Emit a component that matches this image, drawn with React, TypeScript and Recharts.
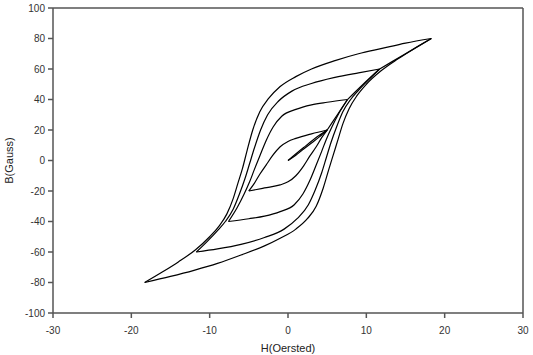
import React from 'react';
import { LineChart, Line, XAxis, YAxis, ReferenceLine } from 'recharts';

// Tick values
const xTicks = [-30, -20, -10, 0, 10, 20, 30];
const yTicks = [-100, -80, -60, -40, -20, 0, 20, 40, 60, 80, 100];

// Initial magnetization curve [H, B]
const initialCurve = [[0, 0], [1, 3.5], [2, 7.5], [3, 11.5], [4, 15.5], [5, 20]];
const initialCurve2 = [[0, 0], [2, 8.5], [4, 16.5], [5, 20]];

// Loop 1 (B max 20)
const loop20Down = [[-5, -20], [-4.3, -15], [-3.6, -9], [-2.8, -3], [-2, 3], [-1, 9], [0, 12.5], [1, 14.5], [3, 17.5], [5, 20]];
const loop20Up = [[-5, -20], [-3, -18], [-1, -16], [0, -14], [1, -10], [2, -3.5], [2.8, 3], [3.6, 9], [4.3, 15], [5, 20]];

// Loop 2 (B max 40)
const loop40Down = [[-7.6, -40], [-6.5, -31], [-5.6, -22], [-4.9, -14], [-4.3, -6], [-3.6, 3], [-2.8, 13], [-1.9, 22], [-0.8, 29], [1, 33.5], [3, 36.5], [5, 38.2], [7.6, 40]];
const loop40Up = [[-7.6, -40], [-5, -38.2], [-3, -36.5], [-1, -33.5], [0.8, -29], [1.9, -22], [2.8, -13], [3.6, -3], [4.3, 6], [4.9, 14], [5.6, 22], [6.5, 31], [7.6, 40]];

// Loop 3 (B max 60)
const loop60Down = [[-11.7, -60], [-10.3, -53], [-9, -46], [-8, -40], [-7, -32], [-6.2, -22], [-5.5, -12], [-4.9, -2], [-4.3, 8], [-3.5, 20], [-2.6, 30], [-1.2, 39], [0.5, 45.5], [3, 50.5], [6, 54.5], [9, 57.5], [11.7, 60]];
const loop60Up = [[-11.7, -60], [-9, -58], [-6, -55], [-3, -50.5], [-0.5, -45], [1.2, -38], [2.6, -29], [3.5, -19], [4.3, -8], [4.9, 2], [5.5, 12], [6.2, 22], [7, 32], [8, 40], [9, 46], [10.3, 53], [11.7, 60]];

// Loop 4 (B max 80)
const loop80Down = [[-18.3, -80], [-16, -73], [-14, -66.5], [-11.8, -58.5], [-10, -50], [-8.8, -43], [-7.8, -35], [-7, -25], [-6.4, -15], [-5.8, -5], [-5.2, 7], [-4.5, 20], [-3.6, 32], [-2.5, 40.5], [-1, 48.5], [1, 55], [3, 60], [6, 65.5], [9, 70], [12, 73.5], [15, 77], [18.3, 80]];
const loop80Up = [[-18.3, -80], [-15, -76], [-12, -72], [-9, -67.5], [-6, -62], [-3, -56], [-1, -51], [1, -45], [2.5, -38], [3.6, -30], [4.5, -18], [5.2, -6], [5.8, 4], [6.4, 14], [7, 24], [7.8, 34], [8.8, 42.5], [10, 50], [11.8, 58.5], [14, 66.5], [16, 73], [18.3, 80]];

// Steps between loop tips
const step20to40 = [[5, 20], [6.3, 30], [7.6, 40]];
const step40to60 = [[7.6, 40], [9.6, 50], [11.7, 60]];
const step60to80 = [[11.7, 60], [15, 70], [18.3, 80]];

const branches = [
    initialCurve, initialCurve2,
    loop20Down, loop20Up,
    loop40Down, loop40Up,
    loop60Down, loop60Up,
    loop80Down, loop80Up,
    step20to40, step40to60, step60to80
];

const toPoints = (arr: number[][]) => arr.map(([h, b]) => ({ h, b }));

const axisColor = '#555';
const font = 'Liberation Sans, Arial, sans-serif';
const tickStyle = { fontSize: 10, fill: '#333', fontFamily: font };

const App: React.FC = () => {
    return (
        <div style={{ position: 'absolute', left: 0, top: 0, background: '#fff' }}>
            <LineChart width={533} height={355} margin={{ top: 8, right: 10, left: 0, bottom: 0 }}>
                <XAxis
                    dataKey="h"
                    type="number"
                    domain={[-30, 30]}
                    ticks={xTicks}
                    height={42}
                    stroke={axisColor}
                    strokeWidth={1.5}
                    tickSize={5}
                    tickMargin={9}
                    tick={tickStyle}
                    label={{
                        value: 'H(Oersted)',
                        position: 'insideBottom',
                        offset: 3,
                        style: { fontSize: 11, fill: '#222', fontFamily: font }
                    }}
                />
                <YAxis
                    type="number"
                    domain={[-100, 100]}
                    ticks={yTicks}
                    width={53}
                    stroke={axisColor}
                    strokeWidth={1.5}
                    tickSize={5}
                    tickMargin={3}
                    tick={tickStyle}
                    label={{
                        value: 'B(Gauss)',
                        angle: -90,
                        position: 'insideLeft',
                        offset: 9,
                        style: { textAnchor: 'middle', fontSize: 11, fill: '#222', fontFamily: font }
                    }}
                />
                <ReferenceLine y={100} stroke={axisColor} strokeWidth={1.5} />
                <ReferenceLine x={30} stroke={axisColor} strokeWidth={1.5} />
                {branches.map((br, i) => (
                    <Line
                        key={i}
                        data={toPoints(br)}
                        dataKey="b"
                        type="monotone"
                        stroke="#000"
                        strokeWidth={1.2}
                        dot={false}
                        activeDot={false}
                        isAnimationActive={false}
                    />
                ))}
            </LineChart>
        </div>
    );
};

export default App;
